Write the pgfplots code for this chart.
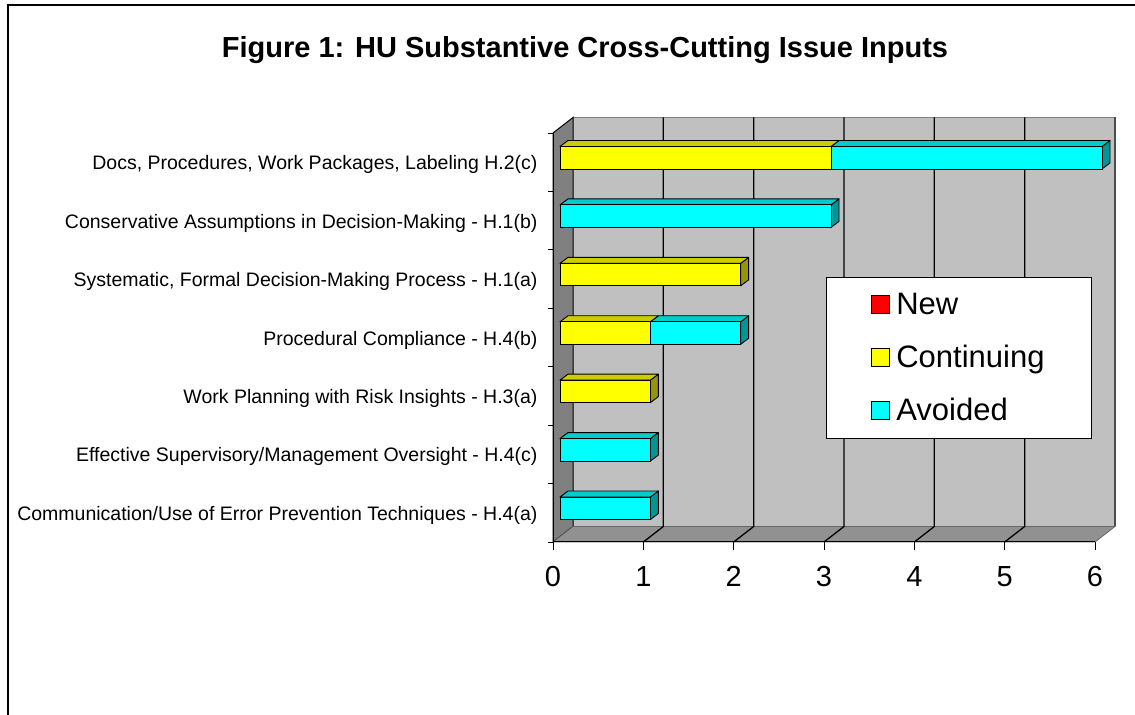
\documentclass[border=0pt]{standalone}
\usepackage{pgfplots}
\pgfplotsset{compat=1.18}
\usepackage{fontspec}
\setmainfont{Liberation Sans}
\definecolor{wallback}{RGB}{192,192,192}
\definecolor{wallleft}{RGB}{128,128,128}
\definecolor{floorc}{RGB}{145,145,145}
\definecolor{cyanF}{RGB}{0,255,255}
\definecolor{cyanT}{RGB}{0,204,204}
\definecolor{cyanS}{RGB}{0,150,150}
\definecolor{yelF}{RGB}{255,255,0}
\definecolor{yelT}{RGB}{204,204,0}
\definecolor{yelS}{RGB}{150,150,0}
\definecolor{newR}{RGB}{255,0,0}
\tikzset{dp/.style={shift={(20bp,15.5bp)}}, bt/.style={shift={(8bp,17.25bp)}}, bs/.style={shift={(8bp,-5.25bp)}}}
\newcommand\topface[4]{%
  \draw[fill=#4, line width=0.9bp, line join=round]
    ([yshift=11.25bp]axis cs:#2,#1) -- ([bt]axis cs:#2,#1)
    -- ([bt]axis cs:#3,#1) -- ([yshift=11.25bp]axis cs:#3,#1) -- cycle;}
\newcommand\sideface[3]{%
  \draw[fill=#3, line width=0.9bp, line join=round]
    ([yshift=-11.25bp]axis cs:#2,#1) -- ([yshift=11.25bp]axis cs:#2,#1)
    -- ([bt]axis cs:#2,#1) -- ([bs]axis cs:#2,#1) -- cycle;}
\begin{document}
\begin{tikzpicture}
\useasboundingbox (0,0) rectangle (1135bp,715bp);
\fill[white] (0,0) rectangle (1135bp,715bp);
\draw[line width=2bp] (8bp,0) -- (8bp,710bp) -- (1135bp,710bp);
\node[font=\bfseries\fontsize{29bp}{34bp}\selectfont, anchor=base] at (585bp,657.5bp)
  {Figure 1: HU Substantive Cross-Cutting Issue Inputs};
% ---------- frame axis: walls, floor, ticks and labels
\begin{axis}[
  at={(553bp,173bp)}, anchor=south west,
  scale only axis, width=542bp, height=409bp,
  xmin=0, xmax=6, ymin=0, ymax=7,
  clip=false, axis on top,
  axis x line*=bottom, axis y line*=left,
  axis line style={-, line width=1bp, black},
  xtick={0,...,6},
  ytick={0.5,1.5,...,6.5},
  yticklabels={
    {Communication/Use of Error Prevention Techniques - H.4(a)},
    {Effective Supervisory/Management Oversight - H.4(c)},
    {Work Planning with Risk Insights - H.3(a)},
    {Procedural Compliance - H.4(b)},
    {Systematic, Formal Decision-Making Process - H.1(a)},
    {Conservative Assumptions in Decision-Making - H.1(b)},
    {Docs, Procedures, Work Packages, Labeling H.2(c)}},
  minor ytick={0,...,7},
  major y tick style={draw=none},
  tick align=outside,
  major tick length=8bp, minor tick length=5bp,
  tick style={black, line width=0.8bp},
  /pgf/number format/assume math mode=true,
  xticklabel style={font=\fontsize{29bp}{34bp}\selectfont, yshift=-13bp},
  yticklabel style={font=\fontsize{19.5bp}{23bp}\selectfont, xshift=-4bp, yshift=-2.5bp},
]
\fill[wallback] ([dp]axis cs:0,0) rectangle ([dp]axis cs:6,7);
\draw[line width=0.8bp, gray] ([dp]axis cs:0,7) -- ([dp]axis cs:6,7);
\draw[line width=1.2bp, black!70] ([dp]axis cs:6,7) -- ([dp]axis cs:6,0);
\filldraw[fill=wallleft, draw=black, line width=1bp] (axis cs:0,0) -- (axis cs:0,7)
  -- ([dp]axis cs:0,7) -- ([dp]axis cs:0,0) -- cycle;
\filldraw[fill=floorc, draw=black!60, line width=0.8bp] (axis cs:0,0) -- (axis cs:6,0)
  -- ([dp]axis cs:6,0) -- ([dp]axis cs:0,0) -- cycle;
\draw[line width=1.3bp] ([dp]axis cs:1,7) -- ([dp]axis cs:1,0) -- (axis cs:1,0);
\draw[line width=1.3bp] ([dp]axis cs:2,7) -- ([dp]axis cs:2,0) -- (axis cs:2,0);
\draw[line width=1.3bp] ([dp]axis cs:3,7) -- ([dp]axis cs:3,0) -- (axis cs:3,0);
\draw[line width=1.3bp] ([dp]axis cs:4,7) -- ([dp]axis cs:4,0) -- (axis cs:4,0);
\draw[line width=1.3bp] ([dp]axis cs:5,7) -- ([dp]axis cs:5,0) -- (axis cs:5,0);
\end{axis}
% ---------- bars axis
\begin{axis}[
  at={(560bp,177.5bp)}, anchor=south west,
  scale only axis, width=542bp, height=409bp,
  xmin=0, xmax=6, ymin=0, ymax=7,
  hide axis, clip=false,
  stack plots=x,
  legend image code/.code={\draw[#1, draw=black, line width=0.9bp] (0bp,-9bp) rectangle (18bp,9bp);},
  legend style={at={(0.4908,0.6369)}, anchor=north west, draw=black, line width=0.8bp,
    fill=white, font=\fontsize{31bp}{36bp}\selectfont,
    inner xsep=45bp, inner ysep=14bp, row sep=25bp,
    /tikz/every odd column/.append style={column sep=4bp}},
  legend cell align=left,
]
\addlegendimage{fill=newR}
\addlegendimage{fill=yelF}
\addlegendimage{fill=cyanF}
\legend{New,Continuing,Avoided}
% Continuing
\addplot[xbar, bar shift=0pt, bar width=22.5bp, fill=yelF, draw=black, line width=0.9bp, forget plot]
  coordinates {(0,0.5) (0,1.5) (1,2.5) (1,3.5) (2,4.5) (0,5.5) (3,6.5)};
% Avoided
\addplot[xbar, bar shift=0pt, bar width=22.5bp, fill=cyanF, draw=black, line width=0.9bp, forget plot]
  coordinates {(1,0.5) (1,1.5) (0,2.5) (1,3.5) (0,4.5) (3,5.5) (3,6.5)};
\topface{6.5}{0}{3}{yelT}\topface{6.5}{3}{6}{cyanT}\sideface{6.5}{6}{cyanS}
\topface{5.5}{0}{3}{cyanT}\sideface{5.5}{3}{cyanS}
\topface{4.5}{0}{2}{yelT}\sideface{4.5}{2}{yelS}
\topface{3.5}{0}{1}{yelT}\topface{3.5}{1}{2}{cyanT}\sideface{3.5}{2}{cyanS}
\topface{2.5}{0}{1}{yelT}\sideface{2.5}{1}{yelS}
\topface{1.5}{0}{1}{cyanT}\sideface{1.5}{1}{cyanS}
\topface{0.5}{0}{1}{cyanT}\sideface{0.5}{1}{cyanS}
\end{axis}
\end{tikzpicture}
\end{document}
